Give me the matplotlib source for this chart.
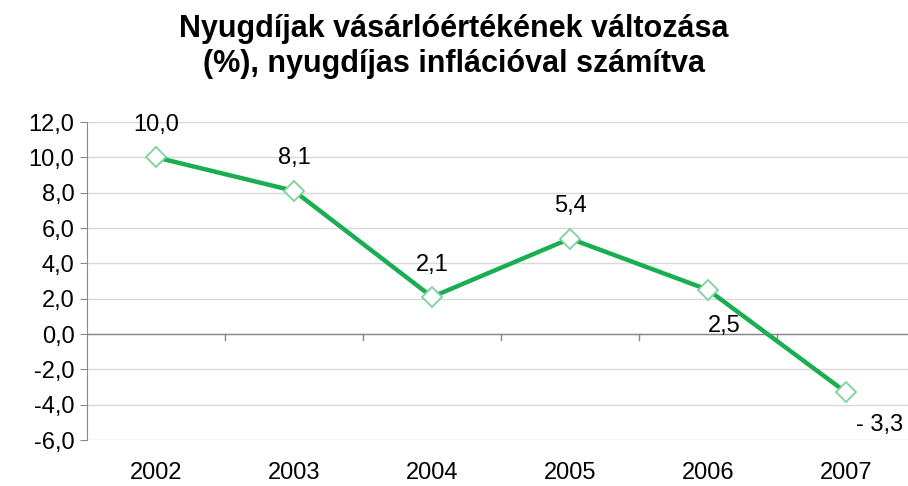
import matplotlib
matplotlib.use("Agg")
import matplotlib.pyplot as plt

plt.rcParams['font.family'] = ['Liberation Sans', 'DejaVu Sans']

years = ["2002", "2003", "2004", "2005", "2006", "2007"]
values = [10.0, 8.1, 2.1, 5.4, 2.5, -3.3]
labels = ["10,0", "8,1", "2,1", "5,4", "2,5", "- 3,3"]
yticks = [-6, -4, -2, 0, 2, 4, 6, 8, 10, 12]

FS = 17

fig = plt.figure(figsize=(9.08, 4.86), dpi=100)
ax = fig.add_axes([87/908, 1-440/486, 828/908, (440-122)/486])

x = list(range(len(years)))
ax.plot(x, values, color='#1aae52', lw=3.2, zorder=3,
        marker='D', markersize=10.5, markerfacecolor='white',
        markeredgecolor='#7ed39b', markeredgewidth=1.3)

ax.set_xlim(-0.5, 5.5)
ax.set_ylim(-6, 12)
ax.set_yticks(yticks)
ax.set_yticklabels([f"{v:.1f}".replace('.', ',') for v in yticks], fontsize=FS)
ax.yaxis.grid(True, color='#d9d9d9', lw=1)
ax.set_axisbelow(True)
for s in ['top', 'right', 'bottom']:
    ax.spines[s].set_visible(False)
ax.spines['left'].set_color('#888888')
ax.tick_params(axis='y', length=5, color='#888888', pad=4)

# x axis line at zero with category boundary ticks
ax.axhline(0, color='#888888', lw=1, zorder=2)
for b in [i + 0.5 for i in range(len(years) - 1)]:
    ax.plot([b, b], [0, -0.35], color='#888888', lw=1, zorder=2)
ax.set_xticks([])
for xi, yr in zip(x, years):
    ax.annotate(yr, (xi, -6), xytext=(0, -16), textcoords='offset points',
                ha='center', va='top', fontsize=FS, annotation_clip=False)

offsets = [(0, 15), (0, 15.5), (0, 15), (0, 15.5), (12, -18), (24, -15.5)]
vas = ['bottom', 'bottom', 'bottom', 'bottom', 'top', 'top']
for xi, v, lab, off, va in zip(x, values, labels, offsets, vas):
    ax.annotate(lab, (xi, v), xytext=off, textcoords='offset points',
                ha='center', va=va, fontsize=FS, annotation_clip=False)

fig.text(0.5, 1-14/486, "Nyugdíjak vásárlóértékének változása\n(%), nyugdíjas inflációval számítva",
         ha='center', va='top', fontsize=22, fontweight='bold', linespacing=1.2)

fig.savefig("out.png", dpi=100)
